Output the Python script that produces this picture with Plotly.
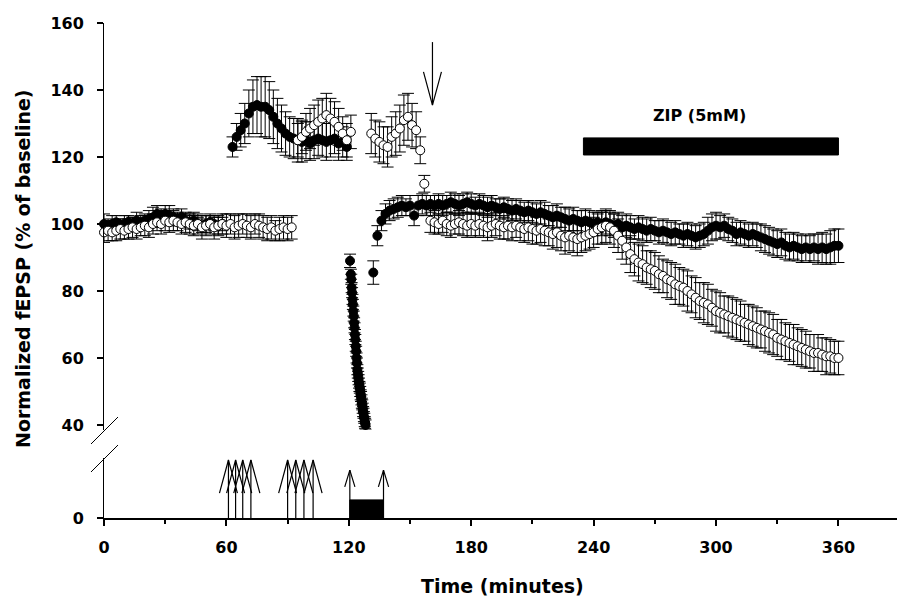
import plotly.graph_objects as go

# ---------------- data ----------------
# filled series (black circles)
blk_t_base = list(range(0, 60, 2))
blk_v_base = [100, 99.5, 100, 100.5, 99.5, 100, 100.5, 100, 101, 100.5,
              101, 101.5, 102, 103, 102.5, 103, 102.5, 102, 101.5, 102,
              101, 100.5, 101, 100, 99.5, 100, 100.5, 100, 99.5, 100]
blk_e_base = [3, 2, 2.5, 2, 2, 2.5, 2, 2, 2.5, 2, 2, 2.5, 3, 2.5, 2,
              2.5, 3, 2.5, 2, 2.5, 2, 2, 2.5, 2, 2, 2.5, 2, 2, 2.5, 2]

blk_t_ltp = list(range(63, 120, 2))
blk_v_ltp = [123, 126, 128, 130, 133, 135, 135.5, 135, 135, 134,
             132, 130, 128.5, 127, 126, 125.5, 125, 124.5, 125, 124,
             125, 125.5, 125, 124.5, 125, 125.5, 124, 124.5, 123]
blk_e_ltp = [3, 4, 5, 6, 7, 8, 8.5, 9, 9, 8.5, 8, 7.5, 7, 6.5, 6,
             6, 6.5, 6, 5.5, 5, 5.5, 5, 5, 5.5, 5, 4.5, 5, 4.5, 4]

blk_t_lfs = [120.6, 121.0, 121.2, 121.4, 121.6, 121.8, 122.0, 122.2, 122.4, 122.6,
             122.8, 123.0, 123.2, 123.4, 123.6, 123.8, 124.0, 124.2, 124.4, 124.6,
             124.8, 125.0, 125.2, 125.4, 125.6, 125.8, 126.0, 126.2, 126.4, 126.6,
             126.8, 127.0, 127.2, 127.4, 127.6, 127.8, 128.0, 128.2, 132, 134]
blk_v_lfs = [89, 85, 83.5, 81, 79.5, 77.5, 76, 74, 72.5, 70.5,
             69, 67, 65.5, 63.5, 62, 60, 58.5, 56.5, 55.5, 54.5,
             53.5, 52.5, 51.5, 51, 50, 49, 48.5, 47.5, 46.5, 46,
             45, 44, 43.5, 42.5, 42, 41, 40.5, 40, 85.5, 96.5]
blk_e_lfs = [2, 1.5, 1.5, 1.5, 1.5, 1.5, 1.5, 1.5, 1.5, 1.5,
             1.5, 1.5, 1.5, 1.5, 1.5, 1.5, 1.5, 1.5, 1.5, 1.5,
             1.5, 1.5, 1.5, 1.5, 1.5, 1.5, 1.5, 1.5, 1.5, 1.5,
             1.5, 1.5, 1.5, 1.5, 1.5, 1.5, 1.5, 1.5, 3.5, 3]

blk_t_post = list(range(136, 361, 2))
blk_v_post = [101, 103, 104, 104.5, 105, 105.5, 105, 105.5, 102.5, 105.5,
              106, 105.5, 106, 105.5, 106, 105.5, 106, 106.5, 106, 105.5,
              106, 106.5, 106, 105.5, 106, 105.5, 105, 105.5, 105, 104.5,
              105, 104.5, 104, 104.5, 104, 103.5, 104, 103.5, 103, 103.5,
              103, 102.5, 102, 102.5, 102, 101.5, 101, 101.5, 101, 100.5,
              101, 100.5, 100, 100.5, 100, 100.5, 100, 99.5, 100, 99,
              99.5, 99, 98.5, 99, 98.5, 98, 98.5, 98, 97.5, 98,
              97.5, 97, 97.5, 97, 96.5, 97, 96.5, 96, 96.5, 97,
              98, 99, 99.5, 99, 99.5, 98.5, 98, 97, 97.5, 97,
              96.5, 97, 96.5, 96, 95.5, 95, 94.5, 94, 94.5, 93.5,
              93, 93.5, 93, 92.5, 93, 92.5, 93, 92.5, 93, 92.5,
              93, 93.5, 93.5]
blk_e_post = [3, 3, 3, 3, 3, 3, 2.5, 3, 3, 3,
              3, 3, 2.5, 3, 3, 3, 2.5, 3, 3, 3,
              3, 3, 3, 2.5, 3, 3, 3, 3, 2.5, 3,
              3, 3, 3, 3, 3, 3, 3, 3, 3, 3.5,
              3.5, 3, 3.5, 3.5, 3, 3.5, 3.5, 3.5, 3, 3.5,
              3.5, 3.5, 3.5, 3, 3.5, 3.5, 3.5, 3.5, 3.5, 3.5,
              3.5, 3.5, 3, 3.5, 3.5, 3.5, 3.5, 3, 3.5, 3.5,
              3.5, 3.5, 3.5, 3, 3.5, 3.5, 3.5, 3.5, 3.5, 3.5,
              4, 4, 4, 3.5, 3.5, 3.5, 3.5, 3.5, 3.5, 3.5,
              3.5, 3.5, 3.5, 4, 4, 4, 4, 4, 4, 4,
              4, 4, 4, 4, 4, 4, 4, 4.5, 4.5, 4.5,
              5, 5, 5]

# open series (white circles)
opn_t_base = list(range(0, 93, 2))
opn_v_base = [97.5, 98, 97.5, 98, 98.5, 98, 98.5, 99, 98.5, 99,
              99.5, 99, 100, 100.5, 100, 101, 100.5, 101, 100.5, 100,
              100.5, 100, 99.5, 100, 99, 99.5, 100, 99, 99.5, 100,
              99.5, 100, 99, 99.5, 100, 99.5, 99, 100, 99.5, 99,
              98.5, 99, 98, 98.5, 99, 98.5, 99]
opn_e_base = [3, 3, 2.5, 3, 3, 2.5, 3, 3, 3, 2.5,
              3, 3, 3, 2.5, 3, 3, 3, 3, 2.5, 3,
              3, 3, 3, 3, 3.5, 3, 3, 3.5, 3, 3,
              3.5, 3, 3.5, 3.5, 3, 3.5, 3.5, 3, 3.5, 3.5,
              3.5, 3.5, 3, 3.5, 3.5, 3.5, 3.5]

opn_t_ltp = list(range(95, 122, 2))
opn_v_ltp = [125, 126, 127.5, 128.5, 129.5, 130.5, 131.5, 132.5, 131.5, 130.5,
             129, 127, 125, 127.5]
opn_e_ltp = [5, 5, 5.5, 6, 6, 6.5, 6, 6.5, 6, 6, 5.5, 5, 5, 5]

opn_t_mid = list(range(131, 158, 2))
opn_v_mid = [127, 125.5, 124.5, 123.5, 123, 126, 127, 128.5, 131, 132,
             129.5, 128, 122, 112]
opn_e_mid = [6, 5.5, 6, 5.5, 6, 6, 6.5, 7, 7.5, 7, 6.5, 5.5, 4, 2.5]

opn_t_post = list(range(160, 361, 2))
opn_v_post = [101, 100.5, 100, 101, 100, 99.5, 100, 100.5, 100, 99.5,
              100, 99.5, 100, 99.5, 99, 99.5, 100, 99.5, 99, 99.5,
              99, 99.5, 99, 98.5, 99, 98.5, 98, 98.5, 98, 97.5,
              97, 97.5, 96.5, 96, 96.5, 96, 95.5, 96, 96.5, 97,
              97.5, 98.5, 99, 99.5, 99,
              98, 96.5, 95, 93, 91, 89.5, 88.5, 88, 87, 86.5,
              86, 85, 84.5, 83.5, 83, 82, 81.5, 81, 80, 79,
              78, 77, 76.5, 76, 75, 74, 73.5, 73, 72.5, 72,
              71.5, 71, 70.5, 70, 69.5, 69, 68.5, 68, 67.5, 67,
              66, 65.5, 65, 64.5, 64, 63.5, 63, 62.5, 62, 61.5,
              61.5, 61, 60.5, 60.5, 60, 60]
opn_e_post = [3.5, 3.5, 3, 3.5, 3.5, 3.5, 3, 3.5, 3.5, 3.5,
              3.5, 3.5, 3.5, 3.5, 4, 3.5, 3.5, 4, 3.5, 4,
              4, 3.5, 4, 4, 4, 4.5, 4, 4, 4.5, 4,
              4.5, 4.5, 4.5, 5, 4.5, 4.5, 5, 4.5, 4.5, 4.5,
              4.5, 4.5, 5, 5, 5,
              5, 5, 5.5, 5, 5.5, 5, 5.5, 5.5, 5, 5.5,
              5.5, 5.5, 5, 5.5, 5.5, 6, 5.5, 5.5, 6, 5.5,
              6, 5.5, 6, 6, 5.5, 6, 6, 5.5, 6, 6,
              6, 6, 5.5, 6, 6, 6, 5.5, 6, 6, 6,
              5.5, 6, 5.5, 5.5, 6, 5.5, 5.5, 5.5, 5, 5.5,
              5.5, 5, 5.5, 5, 5, 5]

# stimulation / treatment events (minutes)
tetanus_times = [61, 64.5, 68, 72, 90, 94, 98, 102.5]
lfs_times = [120.5, 137]
arrow_time = 161
zip_start, zip_end = 235, 360
zip_label = "ZIP (5mM)"

x_ticks = [0, 60, 120, 180, 240, 300, 360]
y_ticks = [40, 60, 80, 100, 120, 140, 160]

# ---------------- style ----------------
W, H = 897, 600
ML, MR, MT, MB = 104, 0, 23, 82
PH = H - MT - MB
FONT = "DejaVu Sans"
Y_LO, Y_HI = 38.5, 160
Y2_HI = 17.9
UP_DOM = [(518 - 430) / PH, 1.0]
LO_DOM = [0.0, (518 - 458) / PH]
MSIZE = 9
ERRW = 6

blk_t = blk_t_base + blk_t_ltp + blk_t_lfs + blk_t_post
blk_v = blk_v_base + blk_v_ltp + blk_v_lfs + blk_v_post
blk_e = blk_e_base + blk_e_ltp + blk_e_lfs + blk_e_post
opn_t = opn_t_base + opn_t_ltp + opn_t_mid + opn_t_post
opn_v = opn_v_base + opn_v_ltp + opn_v_mid + opn_v_post
opn_e = opn_e_base + opn_e_ltp + opn_e_mid + opn_e_post

fig = go.Figure()
fig.add_trace(go.Scatter(
    x=blk_t, y=blk_v, mode="markers", cliponaxis=False,
    marker=dict(symbol="circle", size=MSIZE, color="black",
                line=dict(color="black", width=1)),
    error_y=dict(type="data", array=blk_e, color="black", thickness=1, width=ERRW),
    xaxis="x", yaxis="y", showlegend=False))
fig.add_trace(go.Scatter(
    x=opn_t, y=opn_v, mode="markers", cliponaxis=False,
    marker=dict(symbol="circle", size=MSIZE, color="white",
                line=dict(color="black", width=1)),
    error_y=dict(type="data", array=opn_e, color="black", thickness=1, width=ERRW),
    xaxis="x", yaxis="y", showlegend=False))


def arrows_up(times, base, tip, dx, dy):
    xs, ys = [], []
    for t in times:
        xs += [t, t, None, t - dx, t, t + dx, None]
        ys += [base, tip, None, tip - dy, tip, tip - dy, None]
    return xs, ys


ax1, ay1 = arrows_up(tetanus_times, 0, 17.3, 4.4, 9.9)
fig.add_trace(go.Scatter(x=ax1, y=ay1, mode="lines", cliponaxis=False,
                         line=dict(color="black", width=1.2),
                         xaxis="x", yaxis="y2", showlegend=False, hoverinfo="skip"))
ax2, ay2 = arrows_up(lfs_times, 0, 14.3, 2.5, 5.0)
fig.add_trace(go.Scatter(x=ax2, y=ay2, mode="lines", cliponaxis=False,
                         line=dict(color="black", width=1.2),
                         xaxis="x", yaxis="y2", showlegend=False, hoverinfo="skip"))
# downward arrow
fig.add_trace(go.Scatter(
    x=[arrow_time, arrow_time, None, arrow_time - 4.4, arrow_time, arrow_time + 4.4],
    y=[154.3, 135.5, None, 135.5 + 9.9, 135.5, 135.5 + 9.9],
    mode="lines", cliponaxis=False, line=dict(color="black", width=1.2),
    xaxis="x", yaxis="y", showlegend=False, hoverinfo="skip"))

shapes = [
    dict(type="rect", xref="x", yref="y2", x0=lfs_times[0], x1=lfs_times[1],
         y0=0, y1=5.4, fillcolor="black", line=dict(color="black", width=1)),
    dict(type="rect", xref="x", yref="y", x0=zip_start, x1=zip_end,
         y0=120.6, y1=125.7, fillcolor="black", line=dict(color="black", width=1)),
    dict(type="line", xref="paper", yref="paper", xsizemode="pixel", ysizemode="pixel",
         xanchor=0, yanchor=UP_DOM[0], x0=-13, x1=14, y0=-14, y1=13,
         line=dict(color="black", width=1)),
    dict(type="line", xref="paper", yref="paper", xsizemode="pixel", ysizemode="pixel",
         xanchor=0, yanchor=LO_DOM[1], x0=-13, x1=14, y0=-14, y1=13,
         line=dict(color="black", width=1)),
]

tickfont = dict(family=FONT, size=16, color="black", weight="bold")
annotations = [
    dict(text=zip_label, x=292, y=132.4, xref="x", yref="y", showarrow=False,
         font=dict(family=FONT, size=16, color="black", weight="bold"),
         xanchor="center", yanchor="middle"),
    dict(text="Time (minutes)", x=(502 - ML) / (W - ML - MR), y=(518 - 586) / PH,
         xref="paper", yref="paper", showarrow=False,
         font=dict(family=FONT, size=19, color="black", weight="bold"),
         xanchor="center", yanchor="middle"),
    dict(text="Normalized fEPSP (% of baseline)", textangle=-90,
         x=(23 - ML) / (W - ML - MR), y=(518 - 269) / PH,
         xref="paper", yref="paper", showarrow=False,
         font=dict(family=FONT, size=19, color="black", weight="bold"),
         xanchor="center", yanchor="middle"),
]

fig.update_layout(
    width=W, height=H,
    margin=dict(l=ML, r=MR, t=MT, b=MB, pad=0),
    paper_bgcolor="white", plot_bgcolor="white",
    showlegend=False,
    xaxis=dict(range=[0, 388.7], anchor="y2", showline=True, linecolor="black", linewidth=1.5,
               tickmode="array", tickvals=x_ticks, ticktext=[str(v) for v in x_ticks],
               ticks="outside", ticklen=6, tickwidth=2, tickcolor="black",
               ticklabelstandoff=8, tickfont=tickfont,
               minor=dict(tickmode="array", tickvals=[30, 90, 150, 210, 270, 330],
                          ticks="outside", ticklen=4, tickwidth=1.5, tickcolor="black"),
               showgrid=False, zeroline=False),
    yaxis=dict(domain=UP_DOM, range=[Y_LO, Y_HI], anchor="x", showline=True,
               linecolor="black", linewidth=1,
               tickmode="array", tickvals=y_ticks, ticks="outside", ticklen=6,
               tickwidth=1.5, tickcolor="black", ticklabelstandoff=10, tickfont=tickfont,
               showgrid=False, zeroline=False),
    yaxis2=dict(domain=LO_DOM, range=[0, Y2_HI], anchor="x", showline=True,
                linecolor="black", linewidth=1,
                tickmode="array", tickvals=[0], ticks="outside", ticklen=6,
                tickwidth=1.5, tickcolor="black", ticklabelstandoff=10, tickfont=tickfont,
                showgrid=False, zeroline=False),
    shapes=shapes,
    annotations=annotations,
)

fig.write_html("out.html")
